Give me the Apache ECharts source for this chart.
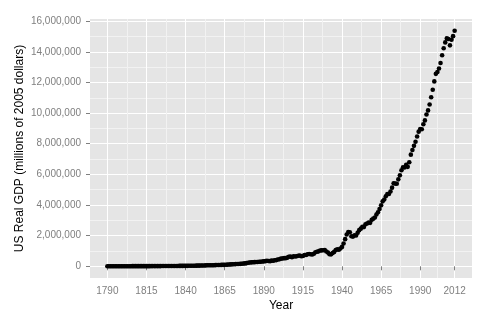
<!DOCTYPE html>
<html>
<head>
<meta charset="utf-8">
<script src="https://cdn.jsdelivr.net/npm/echarts@6/dist/echarts.min.js"></script>
<style>
html, body { margin: 0; padding: 0; background: #fff; }
#gdp-chart { width: 492px; height: 324px; }
</style>
</head>
<body>
<div id="gdp-chart"></div>
<script>
// 数据: 年度实际GDP (百万美元)
const firstYear = 1790

// 1790 - 1928
const gdpEarly = [
  4100, 4300, 4500, 4800, 5000, 5200, 5400, 5600, 5800, 6100,
  6300, 6500, 6800, 7100, 7300, 7700, 8000, 8200, 7900, 8300,
  8700, 9000, 9200, 9500, 9700, 10100, 10400, 10700, 11100, 11400,
  11900, 12400, 12900, 13300, 13800, 14500, 15100, 15800, 16300, 16800,
  18100, 19400, 20500, 21400, 21900, 23700, 24900, 25500, 26800, 28300,
  28800, 29500, 31300, 32200, 34800, 36900, 39700, 43000, 44100, 44900,
  47600, 51200, 56300, 60300, 64200, 66000, 69600, 70300, 71900, 77400,
  80000, 81000, 87000, 94000, 95000, 97000, 104000, 111000, 118000, 125000,
  133000, 138000, 144000, 153000, 154000, 160000, 169000, 179000, 190000, 208000,
  229000, 248000, 259000, 264000, 270000, 276000, 285000, 294000, 300000, 311000,
  322000, 336000, 362000, 345000, 336000, 369000, 364000, 394000, 405000, 440000,
  458000, 503000, 508000, 534000, 529000, 565000, 625000, 634000, 586000, 655000,
  640000, 655000, 690000, 705000, 660000, 675000, 740000, 735000, 790000, 800000,
  790000, 770000, 820000, 920000, 945000, 975000, 1030000, 1040000, 1050000
]

// 1929 - 2012
const gdpModern = [
  1056600, 966700, 904800, 788200, 778300, 862200, 939000, 1060500, 1114600, 1077700,
  1163600, 1266100, 1490300, 1771800, 2073700, 2239400, 2217800, 1960900, 1939400, 2020000,
  2008900, 2184000, 2360000, 2456100, 2571400, 2556900, 2739000, 2797400, 2856300, 2835300,
  3031000, 3108700, 3188100, 3383100, 3530400, 3734000, 3976700, 4238900, 4355200, 4569000,
  4712500, 4722000, 4877600, 5134300, 5424100, 5396000, 5385400, 5675400, 5937000, 6267200,
  6466200, 6450400, 6617700, 6491300, 6792000, 7285000, 7593800, 7860500, 8132600, 8474500,
  8786400, 8955000, 8948400, 9266600, 9521000, 9905400, 10174800, 10561000, 11034900, 11525900,
  12065900, 12559700, 12682200, 12908800, 13271100, 13773500, 14234200, 14613800, 14873700, 14830400,
  14418700, 14783800, 15020600, 15369200
]

const xTicks = [1790, 1815, 1840, 1865, 1890, 1915, 1940, 1965, 1990, 2012]
const xMinor = [1802.5, 1827.5, 1852.5, 1877.5, 1902.5, 1927.5, 1952.5, 1977.5, 2001]
const yTicks = [0, 2000000, 4000000, 6000000, 8000000, 10000000, 12000000, 14000000, 16000000]
const yMinor = [1000000, 3000000, 5000000, 7000000, 9000000, 11000000, 13000000, 15000000]

const gdpAll = gdpEarly.concat(gdpModern)
const points = gdpAll.map((v, i) => [firstYear + i, v])

const chart = echarts.init(document.getElementById('gdp-chart'))

const font = 'Liberation Sans, Arial, sans-serif'
const xMin = 1778.9
const xMax = 2023.1
const yMin = -764000
const yMax = 16140000

const option = {
  animation: false,
  backgroundColor: '#ffffff',
  grid: {
    left: 90,
    right: 20,
    top: 19,
    bottom: 46,
    show: true,
    backgroundColor: '#E5E5E5',
    borderWidth: 0
  },
  xAxis: [
    {
      type: 'value',
      min: xMin,
      max: xMax,
      name: 'Year',
      nameLocation: 'middle',
      nameGap: 22,
      nameMoveOverlap: false,
      nameTextStyle: { color: '#000', fontSize: 12, fontFamily: font },
      axisLine: { show: false },
      axisTick: {
        show: true,
        length: 4,
        customValues: xTicks,
        lineStyle: { color: '#7F7F7F' }
      },
      axisLabel: {
        customValues: xTicks,
        margin: 8,
        color: '#7F7F7F',
        fontSize: 10,
        fontFamily: font,
        formatter: v => String(v)
      },
      splitLine: { show: true, lineStyle: { color: '#FFFFFF', width: 1 } }
    },
    {
      // 次网格线
      type: 'value',
      min: xMin,
      max: xMax,
      axisLine: { show: false },
      axisTick: { show: false, customValues: xMinor },
      axisLabel: { show: false, customValues: xMinor },
      splitLine: { show: true, lineStyle: { color: '#F2F2F2', width: 1 } }
    }
  ],
  yAxis: [
    {
      type: 'value',
      min: yMin,
      max: yMax,
      name: 'US Real GDP (millions of 2005 dollars)',
      nameLocation: 'middle',
      nameGap: 64,
      nameMoveOverlap: false,
      nameTextStyle: { color: '#000', fontSize: 12, fontFamily: font },
      axisLine: { show: false },
      axisTick: {
        show: true,
        length: 4,
        customValues: yTicks,
        lineStyle: { color: '#7F7F7F' }
      },
      axisLabel: {
        customValues: yTicks,
        margin: 9,
        color: '#7F7F7F',
        fontSize: 10,
        fontFamily: font,
        formatter: v => echarts.format.addCommas(v)
      },
      splitLine: { show: true, lineStyle: { color: '#FFFFFF', width: 1 } }
    },
    {
      type: 'value',
      min: yMin,
      max: yMax,
      axisLine: { show: false },
      axisTick: { show: false, customValues: yMinor },
      axisLabel: { show: false, customValues: yMinor },
      splitLine: { show: true, lineStyle: { color: '#F2F2F2', width: 1 } }
    }
  ],
  series: [
    {
      type: 'scatter',
      xAxisIndex: 0,
      yAxisIndex: 0,
      data: points,
      symbol: 'circle',
      symbolSize: 4.6,
      itemStyle: { color: '#000000', opacity: 1 }
    }
  ]
}

chart.setOption(option)
</script>
</body>
</html>
